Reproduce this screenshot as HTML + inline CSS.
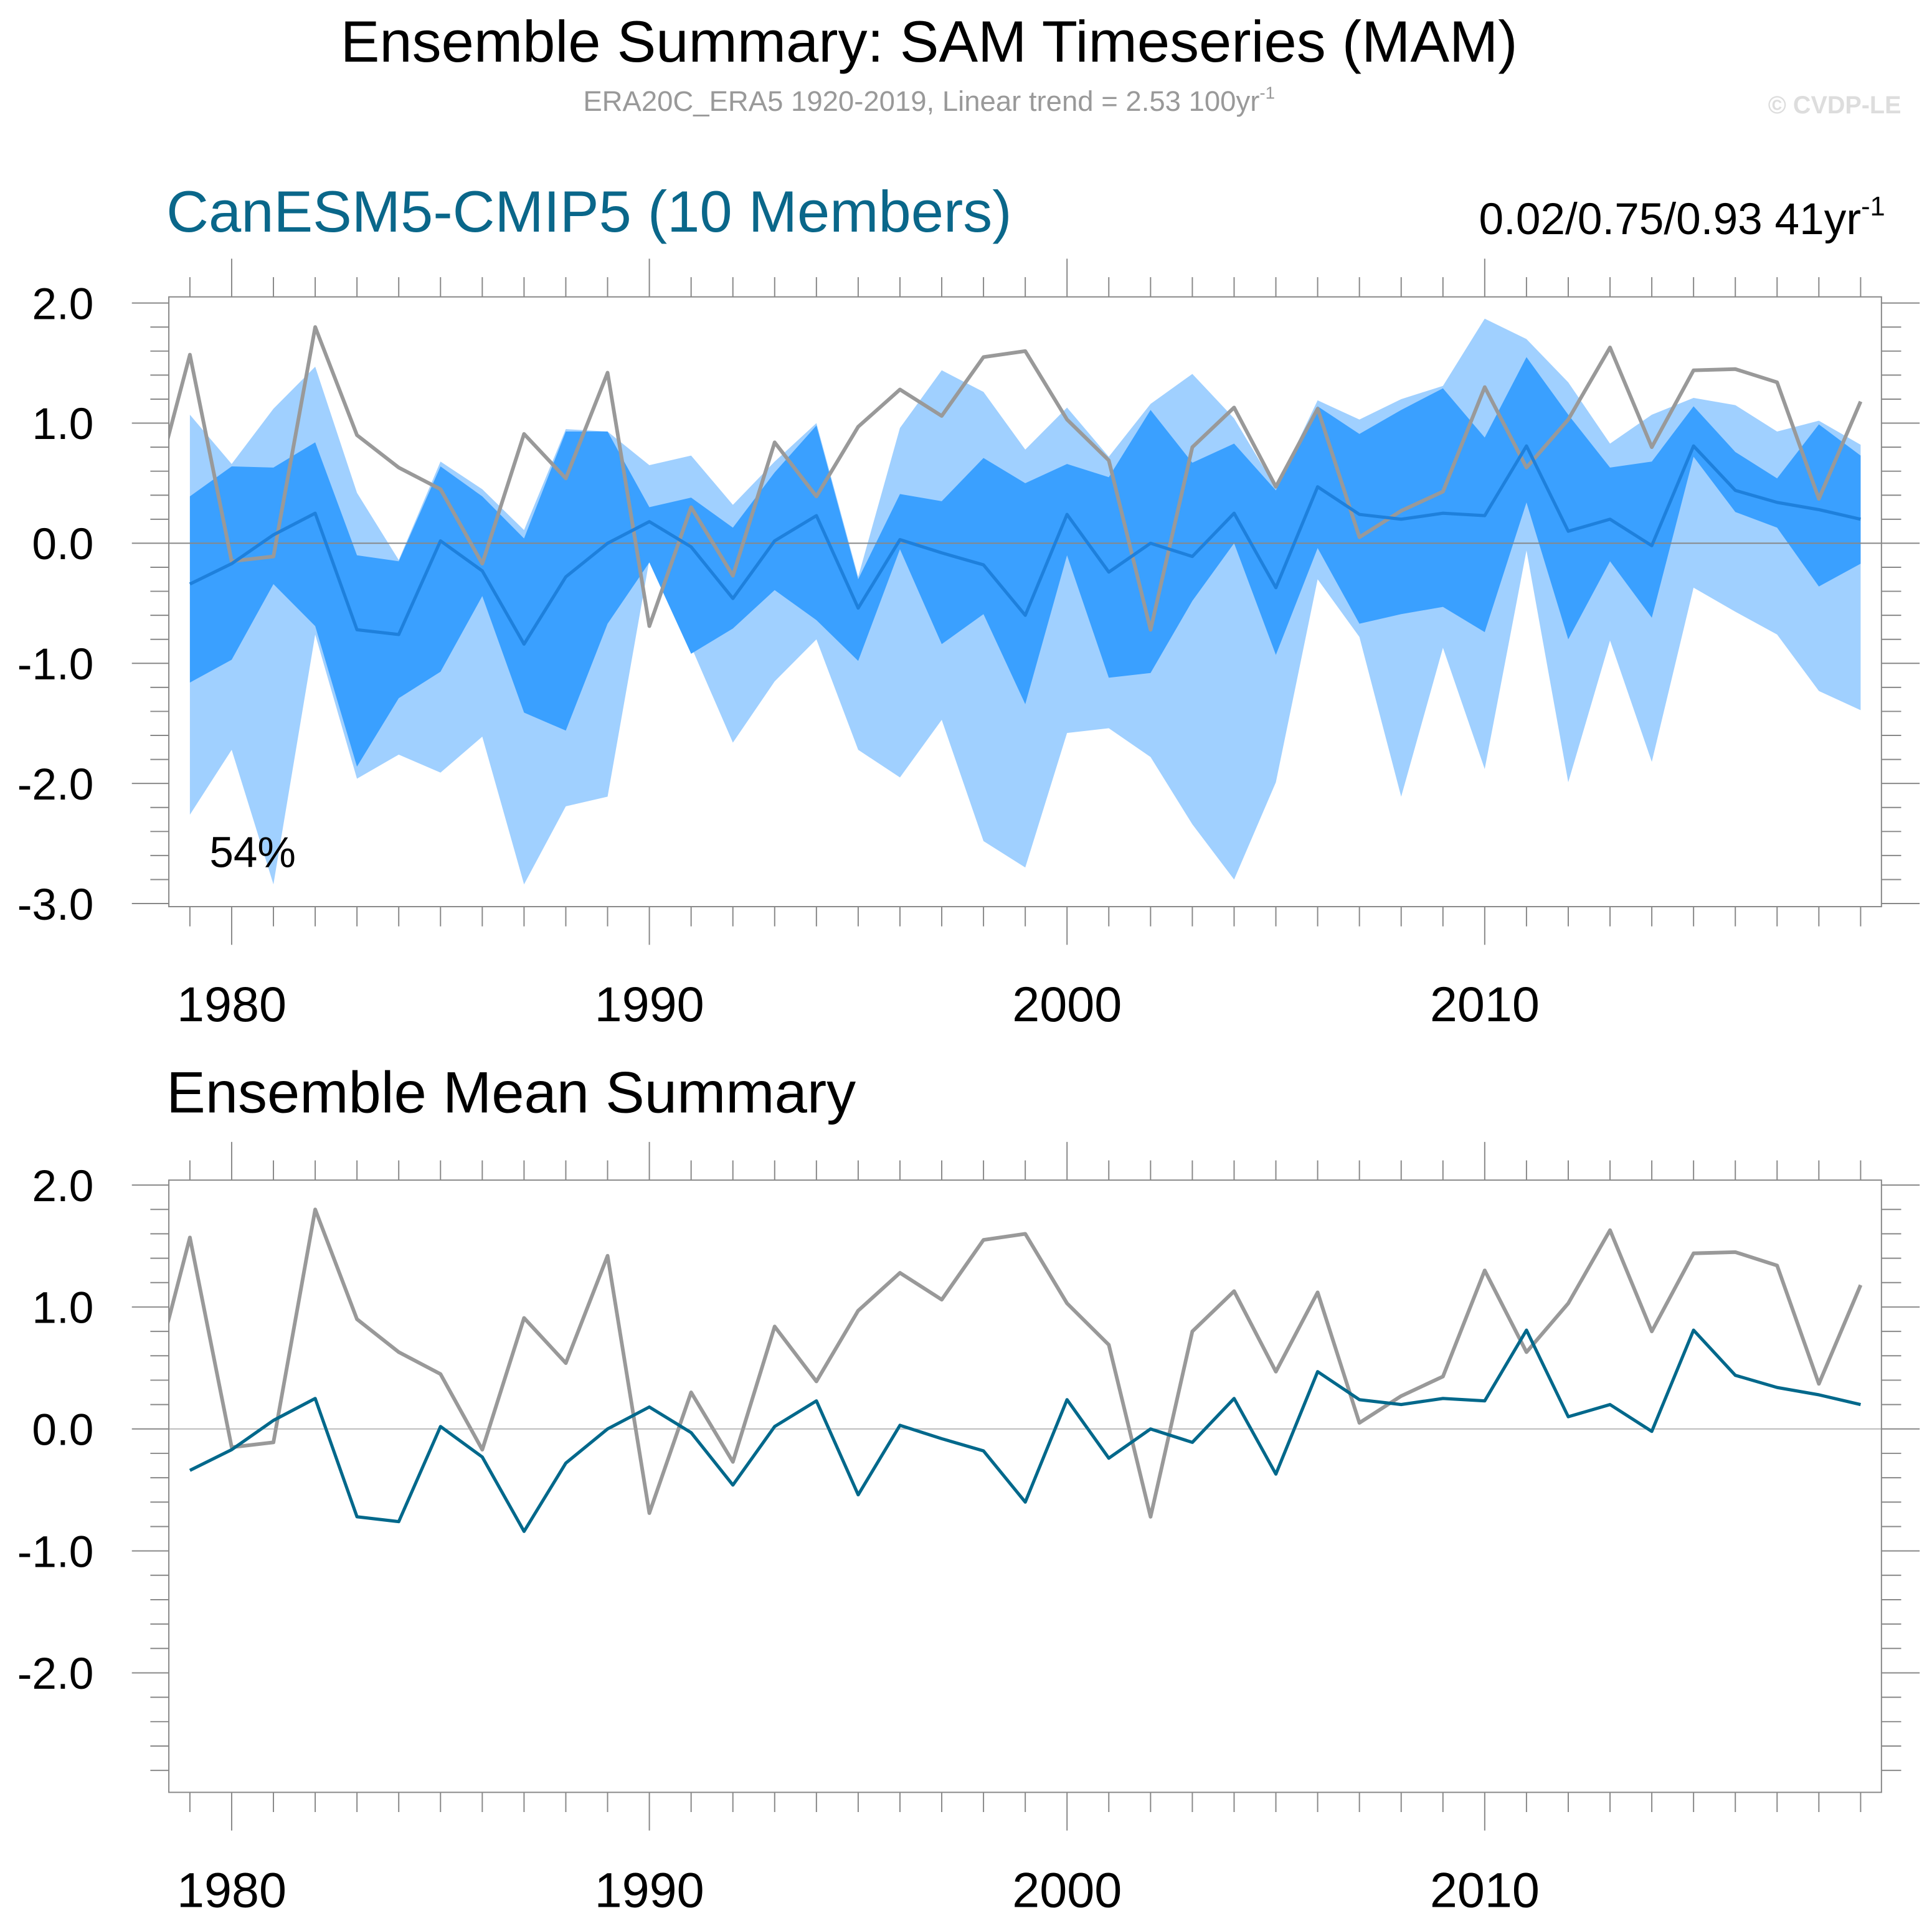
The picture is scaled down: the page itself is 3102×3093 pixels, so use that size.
<!DOCTYPE html>
<html><head><meta charset="utf-8"><style>
html,body{margin:0;padding:0;background:#fff;}
svg{display:block;font-family:"Liberation Sans",sans-serif;}
</style></head><body>
<svg id="chart" width="3102" height="3093" viewBox="0 0 1568 1563.5" xmlns="http://www.w3.org/2000/svg">
<g id="top"></g><g id="bot"></g>
<text x="754" y="50" font-size="47.5" text-anchor="middle">Ensemble Summary: SAM Timeseries (MAM)</text>
<text x="754" y="90" font-size="23" fill="#999" text-anchor="middle">ERA20C_ERA5 1920-2019, Linear trend = 2.53 100yr<tspan font-size="14" dy="-10">-1</tspan></text>
<text x="1543" y="92" font-size="20" font-weight="bold" fill="#ddd" text-anchor="end">© CVDP-LE</text>
<text x="135" y="188" font-size="47.5" fill="#0a678a">CanESM5-CMIP5 (10 Members)</text>
<text x="1530" y="190" font-size="36" text-anchor="end">0.02/0.75/0.93 41yr<tspan font-size="22" dy="-15">-1</tspan></text>
<text x="170" y="704" font-size="35">54%</text>
<text x="135" y="903" font-size="47.5">Ensemble Mean Summary</text>
</svg>
<script>
const years=[];for(let y=1979;y<=2019;y++)years.push(y);
const obs=[1.57,-0.15,-0.11,1.80,0.90,0.63,0.45,-0.17,0.91,0.54,1.42,-0.69,0.30,-0.27,0.84,0.39,0.97,1.28,1.06,1.55,1.60,1.03,0.69,-0.72,0.80,1.13,0.47,1.12,0.05,0.27,0.43,1.30,0.63,1.03,1.63,0.80,1.44,1.45,1.34,0.37,1.18];
const obs1978=0.25;
const ensMean=[-0.34,-0.17,0.07,0.25,-0.72,-0.76,0.02,-0.23,-0.84,-0.28,0.0,0.18,-0.03,-0.46,0.02,0.23,-0.54,0.03,-0.08,-0.18,-0.60,0.24,-0.24,0.0,-0.11,0.25,-0.37,0.47,0.24,0.20,0.25,0.23,0.81,0.10,0.20,-0.02,0.81,0.44,0.34,0.28,0.20];
const outerHi=[1.07,0.66,1.12,1.47,0.42,-0.14,0.68,0.45,0.11,0.95,0.93,0.65,0.73,0.32,0.68,1.0,-0.28,0.96,1.44,1.26,0.78,1.13,0.72,1.16,1.41,1.04,0.46,1.19,1.03,1.20,1.31,1.87,1.70,1.34,0.83,1.07,1.21,1.15,0.93,1.02,0.82];
const outerLo=[-2.26,-1.72,-2.84,-0.76,-1.96,-1.76,-1.91,-1.61,-2.84,-2.19,-2.11,-0.14,-0.86,-1.66,-1.15,-0.80,-1.72,-1.95,-1.47,-2.48,-2.70,-1.58,-1.54,-1.78,-2.34,-2.80,-1.99,-0.30,-0.78,-2.11,-0.87,-1.88,-0.06,-1.99,-0.81,-1.82,-0.37,-0.57,-0.76,-1.23,-1.39];
const innerHi=[0.39,0.64,0.63,0.84,-0.10,-0.15,0.64,0.39,0.04,0.93,0.93,0.30,0.38,0.13,0.59,0.98,-0.30,0.41,0.35,0.71,0.50,0.66,0.55,1.11,0.67,0.83,0.44,1.14,0.91,1.11,1.29,0.88,1.55,1.07,0.63,0.68,1.14,0.76,0.54,0.99,0.73];
const innerLo=[-1.16,-0.97,-0.34,-0.69,-1.86,-1.29,-1.07,-0.44,-1.41,-1.56,-0.67,-0.16,-0.92,-0.71,-0.39,-0.64,-0.98,-0.05,-0.84,-0.59,-1.34,-0.10,-1.12,-1.08,-0.48,0.0,-0.93,-0.04,-0.67,-0.59,-0.53,-0.74,0.34,-0.80,-0.15,-0.62,0.72,0.26,0.13,-0.36,-0.17];
const xTickYears=[1980,1990,2000,2010];
const yTickVals=[2,1,0,-1,-2,-3];
const yTickLabels=["2.0","1.0","0.0","-1.0","-2.0","-3.0"];
const NS="http://www.w3.org/2000/svg";
const X=y=>188+(y-1980)*33.9;
function mk(t,p,at){const e=document.createElementNS(NS,t);for(const k in at)e.setAttribute(k,at[k]);p.appendChild(e);return e;}
function panel(g,top,bot,y0,ppu,ymin,name,withBands){
  const Y=v=>y0-v*ppu;const L=137,R=1527;
  const cp=mk('clipPath',g,{id:'clip'+name});mk('rect',cp,{x:L,y:top,width:R-L,height:bot-top});
  const inner=mk('g',g,{'clip-path':'url(#clip'+name+')'});
  if(withBands){
    const band=(hi,lo,col,nm)=>{let d='';years.forEach((yr,i)=>d+=(i?'L':'M')+X(yr)+','+Y(hi[i]));for(let i=years.length-1;i>=0;i--)d+='L'+X(years[i])+','+Y(lo[i]);
      const p=mk('path',inner,{d:d+'Z',fill:col});};
    band(outerHi,outerLo,'#a0d0ff','outer-spread-band');
    band(innerHi,innerLo,'#3aa0ff','inner-spread-band');
  }
  const z=mk('line',inner,{x1:L,x2:R,y1:Y(0),y2:Y(0),stroke:withBands?'#888':'#bbb','stroke-width':1});
  
  const line=(xs,vs,col,w,nm)=>{const p=mk('polyline',inner,{points:xs.map((x,i)=>X(x)+','+Y(vs[i])).join(' '),fill:'none',stroke:col,'stroke-width':w,'stroke-linejoin':'round'});
    };
  line([1978].concat(years),[obs1978].concat(obs),'#999',3,'observed-line');
  line(years,ensMean,withBands?'#1e80dc':'#00688b',2.6,'ensemble-mean-line');
  const fr=mk('rect',g,{x:L,y:top,width:R-L,height:bot-top,fill:'none',stroke:'#888','stroke-width':1});
  
  for(let yr=1979;yr<=2019;yr++){const maj=yr%10==0;const len=maj?31:16;
    mk('line',g,{x1:X(yr),x2:X(yr),y1:top,y2:top-len,stroke:'#888','stroke-width':1});
    mk('line',g,{x1:X(yr),x2:X(yr),y1:bot,y2:bot+len,stroke:'#888','stroke-width':1});}
  for(let k=-15;k<=10;k++){const v=k*0.2;const yy=Y(v);if(yy<top-0.5||yy>bot+0.5)continue;const maj=k%5==0;const len=maj?30:15;
    mk('line',g,{x1:L,x2:L-len,y1:yy,y2:yy,stroke:'#888','stroke-width':1});
    mk('line',g,{x1:R,x2:R+len+1,y1:yy,y2:yy,stroke:'#888','stroke-width':1});}
  yTickVals.forEach((v,i)=>{if(v<ymin)return;const t=mk('text',g,{x:76,y:Y(v)+13,'font-size':36,'text-anchor':'end'});t.textContent=yTickLabels[i];
    });
  xTickYears.forEach(v=>{const t=mk('text',g,{x:X(v),y:bot+93,'font-size':40,'text-anchor':'middle'});t.textContent=v;
    });
}
const gt=document.getElementById('top');
const gb=document.getElementById('bot');
panel(gt,241,736,441,97.5,-3,'T',true);
panel(gb,958,1455,1160,99,-2,'B',false);
</script>
</body></html>
